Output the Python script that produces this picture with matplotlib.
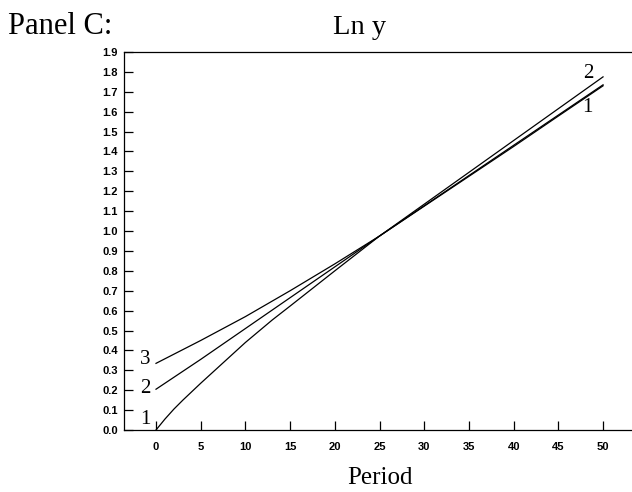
import matplotlib
matplotlib.use("Agg")
import matplotlib.pyplot as plt
import numpy as np

# Data
periods_1 = [0, 1, 2, 3, 5, 10, 13, 15, 20, 25, 30, 35, 40, 45, 50]
ln_y_1 = [0.00, 0.055, 0.105, 0.15, 0.235, 0.44, 0.553, 0.623, 0.80, 0.975, 1.127, 1.279, 1.431, 1.583, 1.735]

periods_2 = [0, 5, 10, 15, 20, 25, 30, 35, 40, 45, 50]
ln_y_2 = [0.205, 0.355, 0.51, 0.665, 0.82, 0.975, 1.135, 1.295, 1.455, 1.615, 1.775]

periods_3 = [0, 5, 10, 15, 20, 25, 30, 35, 40, 45, 50]
ln_y_3 = [0.335, 0.45, 0.57, 0.70, 0.835, 0.975, 1.125, 1.275, 1.425, 1.578, 1.73]

x_ticks = list(range(0, 51, 5))
y_ticks = [round(0.1 * i, 1) for i in range(20)]

fig = plt.figure(figsize=(6.32, 4.92), dpi=100)
ax = fig.add_axes([124/632, 62/492, 508/632, 378/492])

for xs, ys in [(periods_1, ln_y_1), (periods_2, ln_y_2), (periods_3, ln_y_3)]:
    ax.plot(xs, ys, color="black", lw=0.9)

ax.set_xlim(-3.58, 53.24)
ax.set_ylim(0, 1.9)
ax.set_xticks(x_ticks)
ax.set_yticks(y_ticks)
ax.set_xticklabels([str(t) for t in x_ticks])
ax.set_yticklabels([f"{t:.1f}" for t in y_ticks])
ax.spines["right"].set_visible(False)
for s in ["left", "bottom", "top"]:
    ax.spines[s].set_linewidth(0.9)
ax.tick_params(direction="in", length=6.5, width=0.9, labelsize=8)
ax.tick_params(axis="x", pad=9)
ax.tick_params(axis="y", pad=4.5)
for lab in ax.get_xticklabels() + ax.get_yticklabels():
    lab.set_fontweight("bold")
    lab.set_family("Liberation Sans")

serif = "Liberation Serif"
# line labels
ax.text(-1.2, 0.355, "3", fontsize=15, family=serif, ha="center", va="center")
ax.text(-1.2, 0.21, "2", fontsize=15, family=serif, ha="center", va="center")
ax.text(-1.2, 0.055, "1", fontsize=15, family=serif, ha="center", va="center")
ax.text(48.3, 1.79, "2", fontsize=15, family=serif, ha="center", va="center")
ax.text(48.3, 1.62, "1", fontsize=15, family=serif, ha="center", va="center")

fig.text(8/632, 1 - 27/492, "Panel C:", fontsize=22, family=serif, ha="left", va="center")
fig.text(360/632, 1 - 27/492, "Ln y", fontsize=20.5, family=serif, ha="center", va="center")
fig.text(380/632, 1 - 478/492, "Period", fontsize=18, family=serif, ha="center", va="center")

fig.savefig("out.png", dpi=100)
